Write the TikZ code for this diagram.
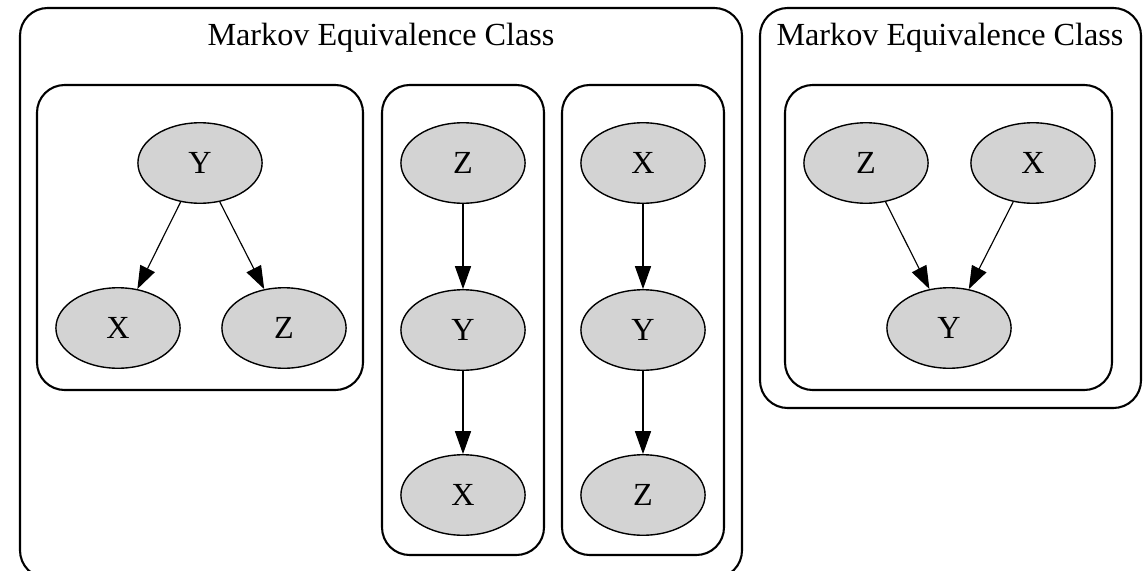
\documentclass[tikz,border=0pt]{standalone}
\usepackage{fontspec}
\setmainfont{Liberation Serif}
\usetikzlibrary{arrows.meta, shapes.geometric, positioning}
\definecolor{nodegray}{RGB}{211,211,211}

\begin{document}
\begin{tikzpicture}[
    x=0.4348pt, y=-0.4348pt, >={Triangle[length=10pt, width=7pt]},
    var/.style={ellipse, draw=black, fill=nodegray, line width=0.6pt, minimum width=54pt, minimum height=35pt, inner sep=0pt, font=\fontsize{14pt}{16pt}\selectfont},
    cluster/.style={draw=black, line width=0.9pt, rounded corners=12pt},
    title/.style={font=\fontsize{14pt}{16pt}\selectfont},
    edge/.style={draw, ->, line width=0.5pt}
  ]
    \clip (0,0) rectangle (1147,570);
    \fill[white] (0,0) rectangle (1147,570);

    % first class: three graphs
    \draw[cluster] (20,8) rectangle (742,578);
    \node (title1) [title] at (381,38) {Markov Equivalence Class};
    \draw[cluster] (37,85) rectangle (363,390);
    \draw[cluster] (382,85) rectangle (544,555);
    \draw[cluster] (562,85) rectangle (724,555);

    \node (a_y) [var] at (200,163) {Y};
    \node (a_x) [var] at (118,328) {X};
    \node (a_z) [var] at (284,328) {Z};
    \draw[edge] (a_y) -- (a_x);
    \draw[edge] (a_y) -- (a_z);

    \node (b_z) [var] at (463,163) {Z};
    \node (b_y) [var] at (463,330) {Y};
    \node (b_x) [var] at (463,495) {X};
    \draw[edge] (b_z) -- (b_y);
    \draw[edge] (b_y) -- (b_x);

    \node (c_x) [var] at (643,163) {X};
    \node (c_y) [var] at (643,330) {Y};
    \node (c_z) [var] at (643,495) {Z};
    \draw[edge] (c_x) -- (c_y);
    \draw[edge] (c_y) -- (c_z);

    % second class: collider
    \draw[cluster] (760,8) rectangle (1141,408);
    \node (title2) [title] at (950,38) {Markov Equivalence Class};
    \draw[cluster] (785,85) rectangle (1112,390);

    \node (d_z) [var] at (866,163) {Z};
    \node (d_x) [var] at (1033,163) {X};
    \node (d_y) [var] at (949,328) {Y};
    \draw[edge] (d_z) -- (d_y);
    \draw[edge] (d_x) -- (d_y);
\end{tikzpicture}
\end{document}
